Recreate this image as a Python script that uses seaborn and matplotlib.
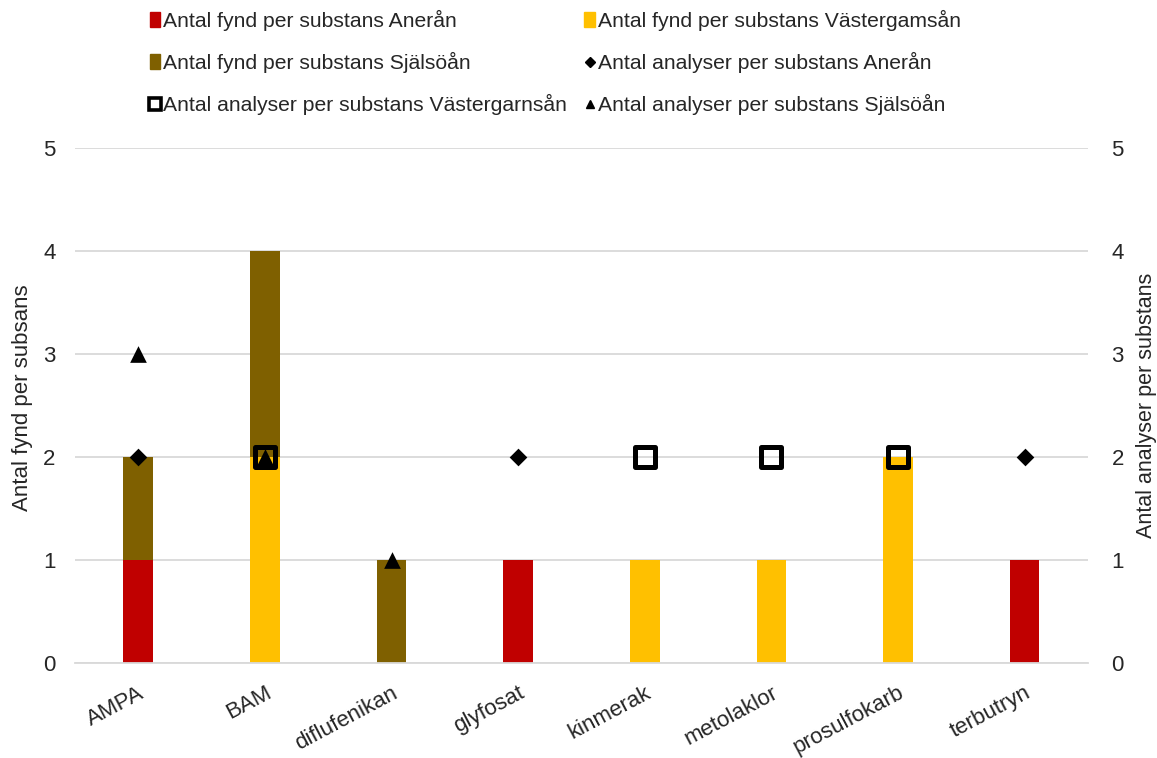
import numpy as np
import pandas as pd
import matplotlib.pyplot as plt
import seaborn as sns
from matplotlib.patches import Patch
from matplotlib.lines import Line2D

# --- data ---
substanser = ['AMPA', 'BAM', 'diflufenikan', 'glyfosat', 'kinmerak',
              'metolaklor', 'prosulfokarb', 'terbutryn']

fynd_aneran = [1, 0, 0, 1, 0, 0, 0, 1]
fynd_vastergarnsan = [0, 2, 0, 0, 1, 1, 2, 0]
fynd_sjalsoan = [1, 2, 1, 0, 0, 0, 0, 0]

nan = np.nan
analyser_aneran = [2, nan, nan, 2, nan, nan, nan, 2]
analyser_vastergarnsan = [nan, 2, nan, nan, 2, 2, 2, nan]
analyser_sjalsoan = [3, 2, 1, nan, nan, nan, nan, nan]

rod = '#C00000'
gul = '#FFC000'
brun = '#7F6000'

# staplade värden (nederst Anerån, sedan Västergarnsån, överst Själsöån)
df = pd.DataFrame({'substans': substanser,
                   'aneran': fynd_aneran,
                   'vaster': fynd_vastergarnsan,
                   'sjalso': fynd_sjalsoan})
df['niva1'] = df['aneran']
df['niva2'] = df['aneran'] + df['vaster']
df['niva3'] = df['niva2'] + df['sjalso']

sns.set_theme(style='white')
plt.rcParams['font.family'] = ['Liberation Sans', 'DejaVu Sans']
fs = 16

fig, ax = plt.subplots(figsize=(11.57, 7.58), dpi=100)
fig.subplots_adjust(left=0.0648, right=0.9403, top=0.8047, bottom=0.1253)

bw = 0.235
sns.barplot(data=df, x='substans', y='niva3', color=brun, width=bw,
            saturation=1, linewidth=0, ax=ax, zorder=2)
sns.barplot(data=df, x='substans', y='niva2', color=gul, width=bw,
            saturation=1, linewidth=0, ax=ax, zorder=2)
sns.barplot(data=df, x='substans', y='niva1', color=rod, width=bw,
            saturation=1, linewidth=0, ax=ax, zorder=2)

ax.set_ylim(0, 5)
ax.set_xlim(-0.5, len(substanser) - 0.5)
ax.set_yticks(range(6))
ax.yaxis.grid(True, color='#D9D9D9', linewidth=1.3)
ax.set_axisbelow(True)
for s in ['top', 'right', 'left']:
    ax.spines[s].set_visible(False)
ax.spines['bottom'].set_color('#D9D9D9')
ax.spines['bottom'].set_linewidth(1.3)
ax.tick_params(axis='y', labelsize=fs, length=0, pad=14)
ax.tick_params(axis='x', length=0, pad=14)
ax.set_xticks(range(len(substanser)))
ax.set_xticklabels(substanser, rotation=28, ha='right', va='top',
                   rotation_mode='anchor', fontsize=fs)
ax.set_xlabel('')
ax.set_ylabel('Antal fynd per subsans', fontsize=fs)
ax.yaxis.set_label_coords(-0.041, 0.515)

# --- analyser på sekundär axel ---
ax2 = ax.twinx()
pos = np.arange(len(substanser))
sns.scatterplot(x=pos, y=analyser_aneran, marker='D', s=9 ** 2,
                color='black', linewidth=0, ax=ax2, zorder=3)
sns.scatterplot(x=pos, y=analyser_vastergarnsan, marker='s', s=14.4 ** 2,
                facecolor='none', edgecolor='black', linewidth=3.6,
                ax=ax2, zorder=3)
sns.scatterplot(x=pos, y=analyser_sjalsoan, marker='^', s=12 ** 2,
                color='black', linewidth=0, ax=ax2, zorder=4)
ax2.set_ylim(0, 5)
ax2.set_yticks(range(6))
ax2.grid(False)
for s in ['top', 'right', 'left', 'bottom']:
    ax2.spines[s].set_visible(False)
ax2.tick_params(axis='y', labelsize=fs, length=0, pad=17)
ax2.set_ylabel('Antal analyser per substans', fontsize=15.5)
ax2.yaxis.set_label_coords(1.047, 0.5)

# --- legend ---
handles = [
    Patch(color=rod, label='Antal fynd per substans Anerån'),
    Patch(color=gul, label='Antal fynd per substans Västergamsån'),
    Patch(color=brun, label='Antal fynd per substans Själsöån'),
    Line2D([], [], ls='none', marker='D', ms=5, color='black',
           label='Antal analyser per substans Anerån'),
    Line2D([], [], ls='none', marker='s', ms=8, mfc='none', mec='black',
           mew=2.6, label='Antal analyser per substans Västergarnsån'),
    Line2D([], [], ls='none', marker='^', ms=6, color='black',
           label='Antal analyser per substans Själsöån'),
]
order = [0, 2, 4, 1, 3, 5]
fig.legend([handles[i] for i in order], [handles[i].get_label() for i in order],
           loc='upper center', bbox_to_anchor=(0.48, 1.012), ncol=2,
           frameon=False, fontsize=15.2, handlelength=0.5, handleheight=0.7,
           handletextpad=0.15, columnspacing=0.8, labelspacing=1.0)

fig.savefig('out.png', dpi=100)
